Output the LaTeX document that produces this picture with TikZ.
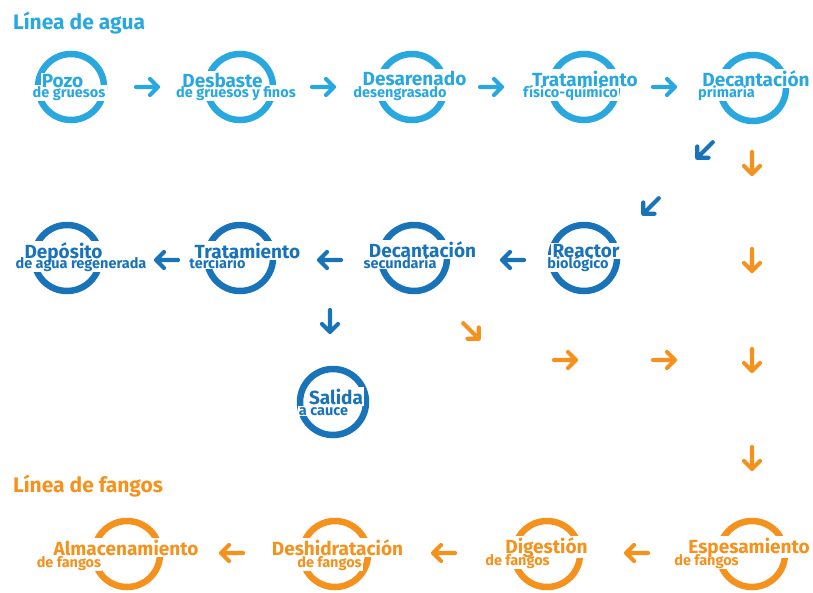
\documentclass[tikz,border=0pt]{standalone}
\usepackage{fontspec}
\setmainfont{Fira Sans}
\usetikzlibrary{backgrounds}
\definecolor{agua}{RGB}{41,168,224}
\definecolor{aguaosc}{RGB}{25,115,185}
\definecolor{fango}{RGB}{245,146,30}
\tikzset{
	anillo/.style={line width=6.5pt},
	principal/.style={inner sep=1pt, anchor=base, font=\bfseries\fontsize{19}{19}\selectfont},
	secundario/.style={inner sep=1pt, anchor=base, font=\bfseries\fontsize{14.5}{14.5}\selectfont},
	titulo/.style={anchor=base west, inner sep=0pt, font=\bfseries\fontsize{21}{21}\selectfont},
	flecha/.pic={\draw[line width=4.2pt, line cap=round, line join=round] (-11,0) -- (11,0) (3,-8) -- (11,0) -- (3,8);}
}
\begin{document}
\begin{tikzpicture}[x=1pt, y=-1pt]
	\useasboundingbox (0,0) rectangle (813,592);
	% linea de agua
	\begin{scope}[color=agua]
		\node[titulo] (tagua) at (13,29) {Línea de agua};
		\coordinate (P1) at (71,87);
		\coordinate (P2) at (240,87);
		\coordinate (P3) at (412,87);
		\coordinate (P4) at (584,87);
		\coordinate (P5) at (753,88);
		\begin{pgfonlayer}{background}
			\foreach \c in {P1,P2,P3,P4,P5}
				\draw[anillo, agua] (\c) circle (33);
		\end{pgfonlayer}
		\node[principal] (pozo) at (62.5,87) {Pozo};
		\node[secundario] (pozob) at (69,97) {de gruesos};
		\node[principal] (desb) at (222.5,87) {Desbaste};
		\node[secundario] (desbb) at (236,97) {de gruesos y finos};
		\node[principal] (desa) at (414.5,85) {Desarenado};
		\node[secundario] (desab) at (400,97) {desengrasado};
		\node[principal] (trat) at (585,86) {Tratamiento};
		\node[secundario] (tratb) at (570.5,97) {físico-químico};
		\node[principal] (decp) at (756,86) {Decantación};
		\node[secundario] (decpb) at (726.5,97) {primaria};
		\foreach \x in {147,323,491,664}
			\pic at (\x,87) {flecha};
	\end{scope}
	\begin{scope}[color=aguaosc]
		\coordinate (S1) at (67,258);
		\coordinate (S2) at (240,258);
		\coordinate (S3) at (414,258);
		\coordinate (S4) at (584,258);
		\coordinate (S5) at (333,402);
		\begin{pgfonlayer}{background}
			\foreach \c in {S1,S2,S3,S4,S5}
				\draw[anillo, aguaosc] (\c) circle (33);
		\end{pgfonlayer}
		\node[principal] (depo) at (63.5,258) {Depósito};
		\node[secundario] (depob) at (81,268) {de agua regenerada};
		\node[principal] (terc) at (247.5,258) {Tratamiento};
		\node[secundario] (tercb) at (217.5,268) {terciario};
		\node[principal] (decs) at (422.5,257) {Decantación};
		\node[secundario] (decsb) at (400,268) {secundaria};
		\node[principal] (reac) at (586,257) {Reactor};
		\node[secundario] (reacb) at (578,268) {biológico};
		\node[principal] (sal) at (336,404) {Salida};
		\node[secundario] (salb) at (323.5,415) {a cauce};
		\pic[rotate=-135] at (705,150) {flecha};
		\pic[rotate=-135] at (651,206) {flecha};
		\foreach \x in {167,330,513}
			\pic[rotate=180] at (\x,260) {flecha};
		\pic[rotate=-90] at (330,321) {flecha};
	\end{scope}
	% linea de fangos
	\begin{scope}[color=fango]
		\node[titulo] (tfango) at (13,492) {Línea de fangos};
		\coordinate (F1) at (127,554);
		\coordinate (F2) at (335,554);
		\coordinate (F3) at (547,554);
		\coordinate (F4) at (752,554);
		\begin{pgfonlayer}{background}
			\foreach \c in {F1,F2,F3,F4}
				\draw[anillo, fango] (\c) circle (33);
		\end{pgfonlayer}
		\node[principal] (alma) at (126,555) {Almacenamiento};
		\node[secundario] (almab) at (69,567) {de fangos};
		\node[principal] (desh) at (337.5,555) {Deshidratación};
		\node[secundario] (deshb) at (329.5,567) {de fangos};
		\node[principal] (dige) at (546.5,553) {Digestión};
		\node[secundario] (digeb) at (517.5,565) {de fangos};
		\node[principal] (espe) at (749,553) {Espesamiento};
		\node[secundario] (espeb) at (706.5,565) {de fangos};
		\foreach \y in {163,260,360,458}
			\pic[rotate=-90] at (752,\y) {flecha};
		\pic[rotate=-45] at (471,331) {flecha};
		\pic at (565,360) {flecha};
		\pic at (664,360) {flecha};
		\foreach \x in {232,444,637}
			\pic[rotate=180] at (\x,553) {flecha};
	\end{scope}
	% huecos blancos de los textos sobre los anillos
	\begin{pgfonlayer}{background}
		\foreach \n in {pozo,pozob,desb,desbb,desa,desab,trat,tratb,decp,decpb,depo,depob,terc,tercb,decs,decsb,reac,reacb,sal,salb,alma,almab,desh,deshb,dige,digeb,espe,espeb}
			\fill[white] (\n.south west) rectangle (\n.north east);
	\end{pgfonlayer}
\end{tikzpicture}
\end{document}
